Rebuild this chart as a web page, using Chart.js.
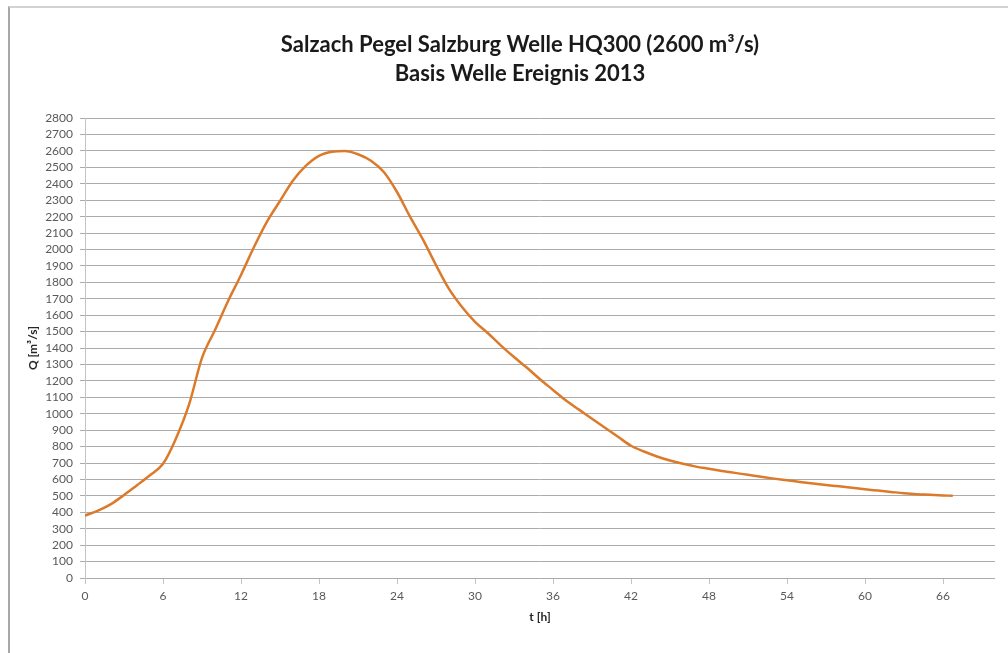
<!DOCTYPE html>
<html>
<head>
<meta charset="utf-8">
<script src="https://cdn.jsdelivr.net/npm/chart.js@4"></script>
<style>
  html, body { margin: 0; padding: 0; background: #ffffff; overflow: hidden; }
  #frame { position: absolute; left: 8px; top: 6px; width: 1010px; height: 645px;
           border-left: 2px solid #a8a8a8; border-top: 2px solid #d2d2d2; border-bottom: 1px solid #e6e6e6; }
  #wrap { position: absolute; left: 0; top: 0; width: 1008px; height: 653px; }
</style>
</head>
<body>
<div id="frame"></div>
<div id="wrap"><canvas id="c" width="1008" height="653"></canvas></div>
<script>
// ---- data ----
const titleLines = ["Salzach Pegel Salzburg Welle HQ300 (2600 m³/s)", "Basis Welle Ereignis 2013"];
const xTitle = "t [h]";
const yTitle = "Q [m³/s]";
const hours = [0,1,2,3,4,5,6,7,8,9,10,11,12,13,14,15,16,17,18,19,20,21,22,23,24,25,26,27,28,29,30,
  31,32,33,34,35,36,37,38,39,40,41,42,43,44,45,46,47,48,49,50,51,52,53,54,55,56,57,58,59,60,
  61,62,63,64,65,66,66.75];
const discharge = [380,410,450,505,565,625,695,850,1055,1340,1510,1685,1845,2015,2170,2295,2420,2510,2570,2595,2600,
  2580,2540,2470,2350,2200,2060,1905,1760,1650,1560,1490,1415,1345,1280,1210,1145,1080,1025,970,915,
  860,805,770,740,715,695,678,665,652,640,628,616,605,595,585,575,566,558,549,540,
  532,524,516,510,507,503,500];
const xTicks = [0,6,12,18,24,30,36,42,48,54,60,66];
const yTicks = [0,100,200,300,400,500,600,700,800,900,1000,1100,1200,1300,1400,1500,1600,1700,1800,1900,
  2000,2100,2200,2300,2400,2500,2600,2700,2800];

const points = hours.map((h, i) => ({ x: h, y: discharge[i] }));

new Chart(document.getElementById('c'), {
  type: 'line',
  data: {
    datasets: [{
      data: points,
      borderColor: '#dc7a2b',
      borderWidth: 2.5,
      pointRadius: 0,
      fill: false,
      cubicInterpolationMode: 'monotone'
    }]
  },
  options: {
    responsive: false,
    animation: false,
    devicePixelRatio: 1,
    layout: { padding: { left: 45, right: 13, top: 0, bottom: 0 } },
    plugins: {
      legend: { display: false },
      tooltip: { enabled: false },
      title: {
        display: true,
        text: titleLines,
        color: '#1a1a1a',
        font: { family: 'Lato', size: 22, weight: 'bold', lineHeight: 1.32 },
        padding: { top: 30, bottom: 30 }
      }
    },
    scales: {
      x: {
        type: 'linear',
        min: 0,
        max: 70,
        afterBuildTicks: (s) => { s.ticks = xTicks.map(v => ({ value: v })); },
        afterFit: (s) => { s.height = 75; },
        grid: { drawOnChartArea: false, drawTicks: true, tickLength: 6, color: '#c4c4c4' },
        border: { display: false },
        ticks: { color: '#595959', font: { family: 'Lato', size: 12 }, padding: 5, maxRotation: 0, autoSkip: false,
                 callback: (v) => String(v) },
        title: { display: true, text: xTitle, color: '#262626', font: { family: 'Lato', size: 12, weight: 'bold' }, padding: { top: 0, bottom: 29 } }
      },
      y: {
        min: 0,
        max: 2800,
        afterBuildTicks: (s) => { s.ticks = yTicks.map(v => ({ value: v })); },
        afterFit: (s) => { s.width = 40; },
        grid: { color: '#ababab', lineWidth: 1, tickLength: 5, drawTicks: true },
        border: { display: true, color: '#c4c4c4' },
        ticks: { color: '#595959', font: { family: 'Lato', size: 12 }, padding: 7, autoSkip: false,
                 callback: (v) => String(v) },
        title: { display: true, text: yTitle, color: '#262626', font: { family: 'Lato', size: 12, weight: 'bold' }, padding: { top: -19, bottom: 0 } }
      }
    }
  }
});
</script>
</body>
</html>
